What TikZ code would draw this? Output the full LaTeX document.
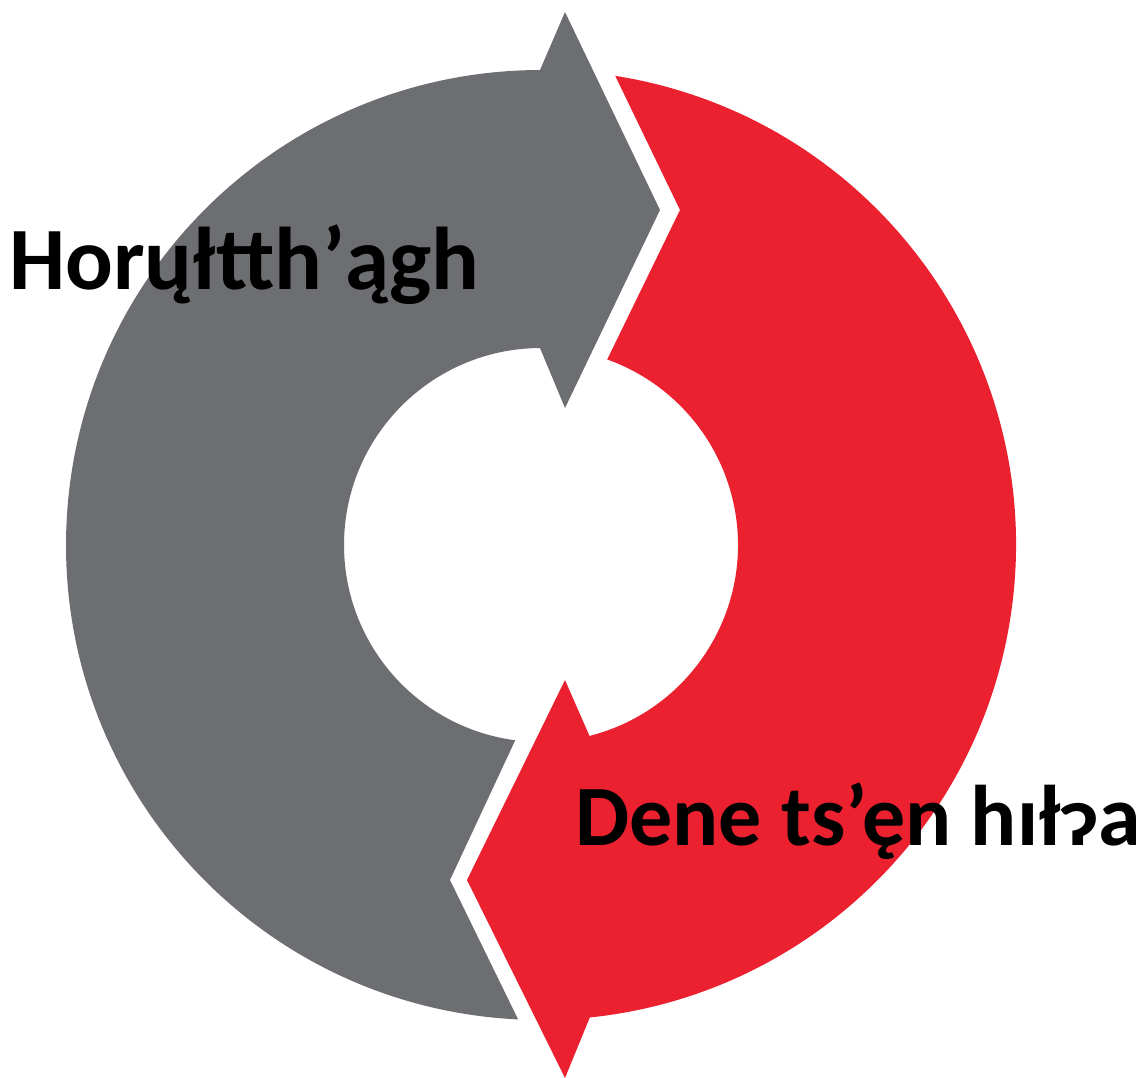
\documentclass[tikz,border=0pt]{standalone}
\usepackage{fontspec}
\setmainfont{Carlito}
\definecolor{arrowgray}{RGB}{109,110,113}
\definecolor{arrowred}{RGB}{236,33,48}
\begin{document}
\begin{tikzpicture}[x=1pt,y=1pt,
  label/.style={inner sep=0pt, anchor=base west, font=\fontsize{89}{100}\selectfont\bfseries}]
\useasboundingbox (0,0) rectangle (1141,-1078);
\coordinate (C) at (541,-545);
% grey arrow
\fill[arrowgray] ([shift={(C)}]267.24:475pt) arc[start angle=267.24, end angle=90.12, radius=475pt]
  -- (565,-12) -- (660,-210) -- (565,-408) -- ([shift={(C)}]90.3:197pt)
  arc[start angle=90.3, end angle=262.48, radius=197pt] -- (450,-880) -- cycle;
% red arrow
\fill[arrowred] ([shift={(C)}]81.01:475pt) arc[start angle=81.01, end angle=-84.10, radius=475pt]
  -- (565,-1078) -- (467,-880) -- (565,-680) -- ([shift={(C)}]-75.75:197pt)
  arc[start angle=-75.75, end angle=70.36, radius=197pt] -- (680,-210) -- cycle;
\node[label] (t1) at (9,-290) {Horųłtth’ągh};
\node[label, font=\fontsize{86}{100}\selectfont\bfseries] (t2) at (575,-845) {Dene ts’ęn hıłɂa};
\end{tikzpicture}
\end{document}
